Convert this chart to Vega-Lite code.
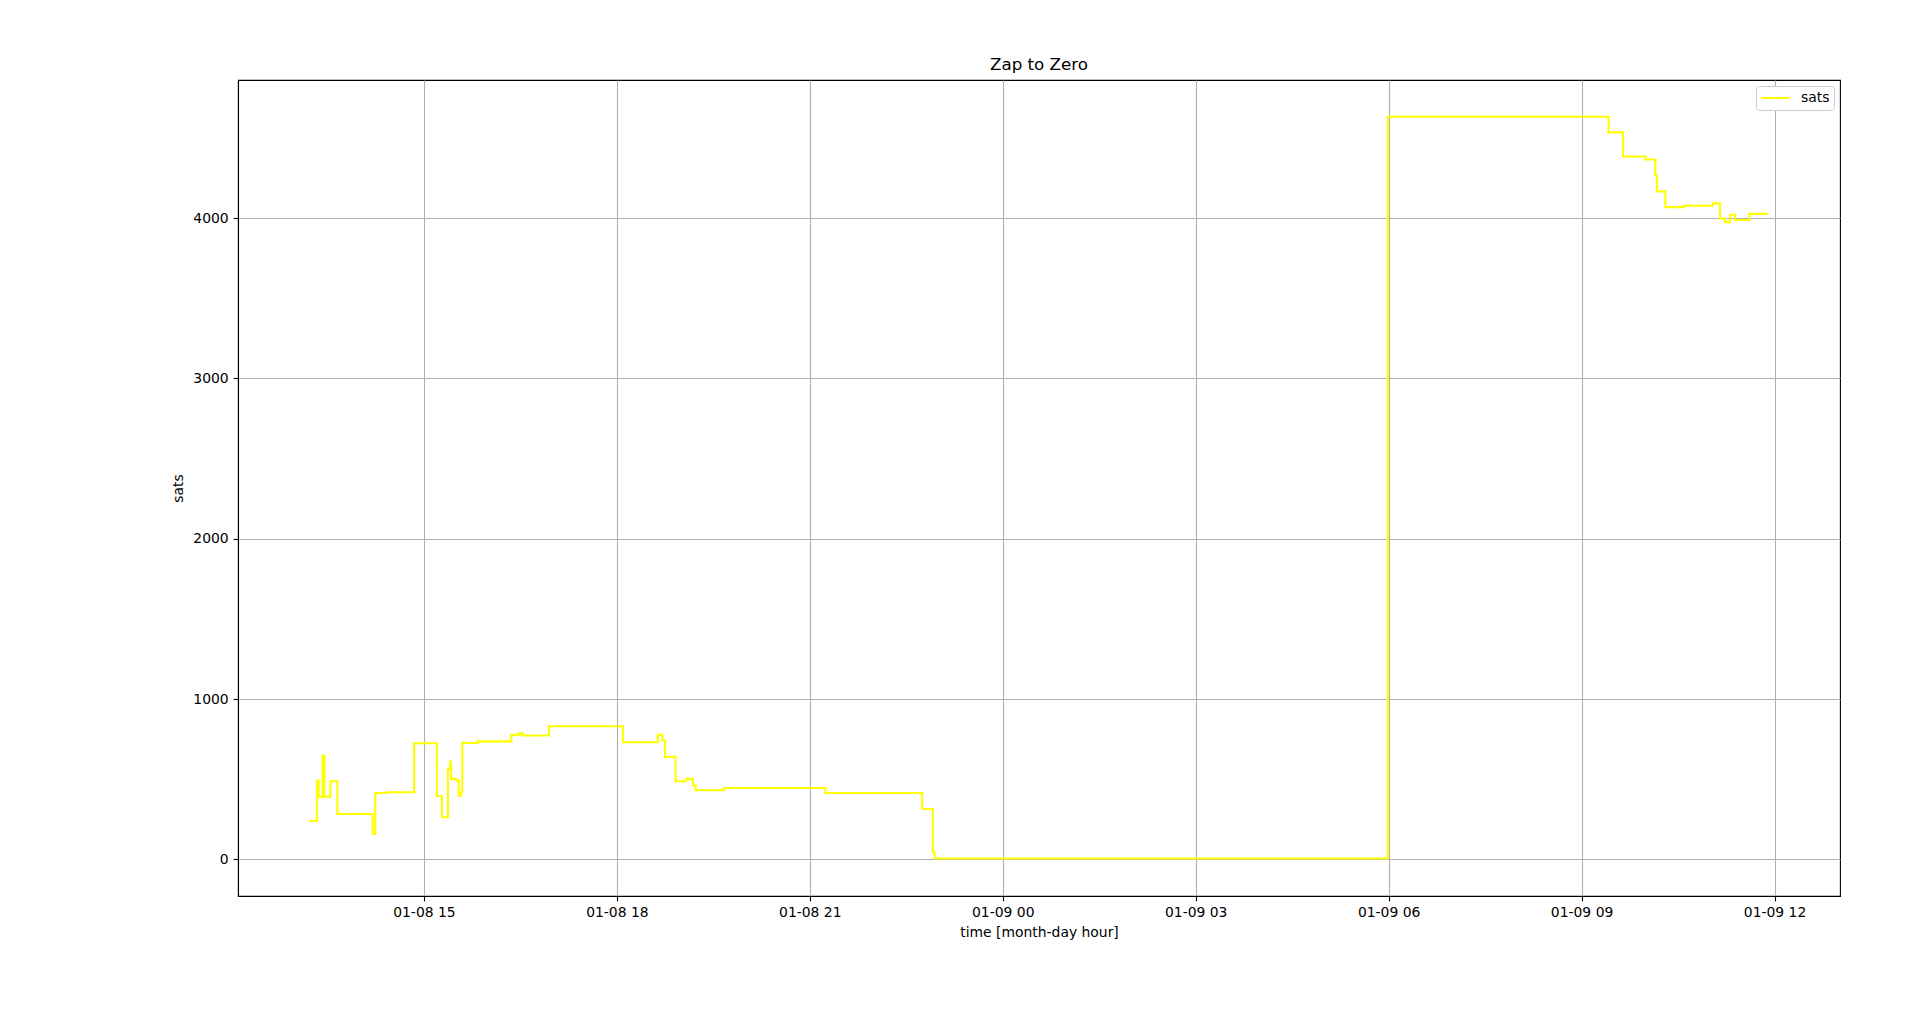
{
  "$schema": "https://vega.github.io/schema/vega-lite/v6.json",
  "width": 1602,
  "height": 816,
  "autosize": {"type": "none"},
  "padding": {"left": 238, "top": 80, "right": 78, "bottom": 123},
  "background": "white",
  "title": {"text": "Zap to Zero", "fontSize": 16.7, "font": "DejaVu Sans", "fontWeight": "normal", "color": "black", "offset": 6, "anchor": "middle"},
  "config": {
    "font": "DejaVu Sans",
    "view": {"stroke": "black", "strokeWidth": 1.1},
    "axis": {
      "domainColor": "black", "domainWidth": 1.1,
      "tickColor": "black", "tickWidth": 1.1, "tickSize": 4.9,
      "gridColor": "#b0b0b0", "gridWidth": 1.1,
      "labelFont": "DejaVu Sans", "labelFontSize": 13.9, "labelColor": "black", "labelPadding": 4.9,
      "titleFont": "DejaVu Sans", "titleFontSize": 13.9, "titleFontWeight": "normal", "titleColor": "black"
    }
  },
  "data": {"values": [
    {"time": "2023-01-08 13:13:23", "sats": 240},
    {"time": "2023-01-08 13:20:13", "sats": 491},
    {"time": "2023-01-08 13:21:47", "sats": 391},
    {"time": "2023-01-08 13:25:30", "sats": 647},
    {"time": "2023-01-08 13:27:07", "sats": 391},
    {"time": "2023-01-08 13:32:42", "sats": 487},
    {"time": "2023-01-08 13:39:14", "sats": 283},
    {"time": "2023-01-08 14:12:11", "sats": 158},
    {"time": "2023-01-08 14:14:42", "sats": 414},
    {"time": "2023-01-08 14:25:30", "sats": 418},
    {"time": "2023-01-08 14:50:53", "sats": 724},
    {"time": "2023-01-08 15:12:07", "sats": 393},
    {"time": "2023-01-08 15:16:48", "sats": 262},
    {"time": "2023-01-08 15:22:23", "sats": 564},
    {"time": "2023-01-08 15:24:36", "sats": 610},
    {"time": "2023-01-08 15:25:23", "sats": 502},
    {"time": "2023-01-08 15:30:14", "sats": 491},
    {"time": "2023-01-08 15:32:20", "sats": 397},
    {"time": "2023-01-08 15:34:30", "sats": 418},
    {"time": "2023-01-08 15:35:49", "sats": 726},
    {"time": "2023-01-08 15:50:20", "sats": 736},
    {"time": "2023-01-08 16:21:32", "sats": 776},
    {"time": "2023-01-08 16:29:17", "sats": 786},
    {"time": "2023-01-08 16:32:20", "sats": 772},
    {"time": "2023-01-08 16:56:35", "sats": 830},
    {"time": "2023-01-08 18:05:35", "sats": 730},
    {"time": "2023-01-08 18:38:13", "sats": 776},
    {"time": "2023-01-08 18:42:22", "sats": 741},
    {"time": "2023-01-08 18:44:56", "sats": 639},
    {"time": "2023-01-08 18:54:47", "sats": 487},
    {"time": "2023-01-08 19:04:44", "sats": 502},
    {"time": "2023-01-08 19:10:55", "sats": 460},
    {"time": "2023-01-08 19:13:26", "sats": 431},
    {"time": "2023-01-08 19:39:47", "sats": 445},
    {"time": "2023-01-08 21:14:38", "sats": 414},
    {"time": "2023-01-08 22:44:49", "sats": 314},
    {"time": "2023-01-08 22:54:43", "sats": 44},
    {"time": "2023-01-08 22:56:20", "sats": 5},
    {"time": "2023-01-09 05:59:17", "sats": 4633},
    {"time": "2023-01-09 09:25:12", "sats": 4535},
    {"time": "2023-01-09 09:38:42", "sats": 4385},
    {"time": "2023-01-09 09:59:24", "sats": 4366},
    {"time": "2023-01-09 10:08:46", "sats": 4266},
    {"time": "2023-01-09 10:10:23", "sats": 4167},
    {"time": "2023-01-09 10:18:07", "sats": 4069},
    {"time": "2023-01-09 10:35:24", "sats": 4077},
    {"time": "2023-01-09 11:02:17", "sats": 4092},
    {"time": "2023-01-09 11:09:11", "sats": 3996},
    {"time": "2023-01-09 11:13:48", "sats": 3975},
    {"time": "2023-01-09 11:18:29", "sats": 4021},
    {"time": "2023-01-09 11:23:10", "sats": 3989},
    {"time": "2023-01-09 11:36:29", "sats": 4027},
    {"time": "2023-01-09 11:53:35", "sats": 4027}
  ]},
  "mark": {"type": "line", "interpolate": "step-after", "strokeWidth": 2.1, "clip": true},
  "encoding": {
    "x": {
      "field": "time", "type": "temporal",
      "scale": {"domain": [
        {"year": 2023, "month": 1, "date": 8, "hours": 12, "minutes": 6, "seconds": 33},
        {"year": 2023, "month": 1, "date": 9, "hours": 13, "minutes": 1, "seconds": 5}
      ]},
      "axis": {
        "format": "%m-%d %H",
        "values": [
          {"year": 2023, "month": 1, "date": 8, "hours": 15},
          {"year": 2023, "month": 1, "date": 8, "hours": 18},
          {"year": 2023, "month": 1, "date": 8, "hours": 21},
          {"year": 2023, "month": 1, "date": 9, "hours": 0},
          {"year": 2023, "month": 1, "date": 9, "hours": 3},
          {"year": 2023, "month": 1, "date": 9, "hours": 6},
          {"year": 2023, "month": 1, "date": 9, "hours": 9},
          {"year": 2023, "month": 1, "date": 9, "hours": 12}
        ],
        "title": "time [month-day hour]", "titlePadding": 6, "labelFlush": false, "labelOverlap": false
      }
    },
    "y": {
      "field": "sats", "type": "quantitative",
      "scale": {"domain": [-229, 4862], "nice": false, "zero": false},
      "axis": {"values": [0, 1000, 2000, 3000, 4000], "format": "d", "title": "sats", "titlePadding": 7, "labelFlush": false}
    },
    "color": {
      "datum": "sats",
      "type": "nominal",
      "scale": {"range": ["#ffff00"]},
      "legend": {
        "title": null, "orient": "top-right", "offset": 6,
        "symbolType": "stroke", "symbolSize": 784, "symbolStrokeWidth": 2.1,
        "labelFontSize": 13.9, "labelFont": "DejaVu Sans", "labelColor": "black", "labelOffset": 10,
        "clipHeight": 16,
        "strokeColor": "#cccccc", "fillColor": "white", "cornerRadius": 3, "padding": 4
      }
    }
  }
}
